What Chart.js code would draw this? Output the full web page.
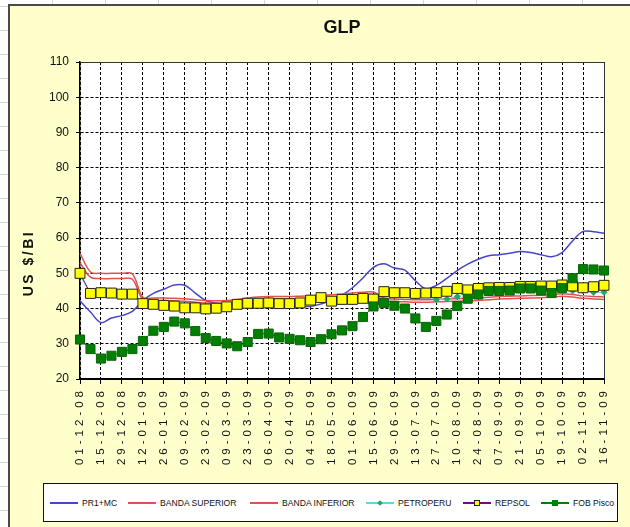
<!DOCTYPE html>
<html>
<head>
<meta charset="utf-8">
<script src="https://cdn.jsdelivr.net/npm/chart.js@4.4.1/dist/chart.umd.min.js"></script>
<style>
  html, body { margin: 0; padding: 0; }
  body {
    width: 630px; height: 527px; overflow: hidden; position: relative;
    background-color: #fff;
    background-image:
      linear-gradient(to right, #d6d6d6 1px, transparent 1px),
      linear-gradient(to bottom, #d6d6d6 1px, transparent 1px);
    background-size: 53px 24px;
    background-position: 52px 6px;
  }
  #frame {
    position: absolute; left: 8px; top: 4px; width: 640px; height: 540px;
    background: #ffffcc;
    border-left: 2px solid #4a4a4a; border-top: 2px solid #4a4a4a;
  }
  #chart { position: absolute; left: 0; top: 0; }
  #legend {
    position: absolute; left: 43px; top: 483px; width: 573px; height: 37px;
    background: #fff; border: 1px solid #111;
    font: 8.6px "Liberation Sans", Arial, sans-serif; color: #111;
  }
  .item { position: absolute; top: 0; height: 37px; display: flex; align-items: center; white-space: nowrap; }
  .sample { position: relative; width: 28px; height: 10px; margin-right: 4px; }
  .sample .ln { position: absolute; left: 0; right: 0; top: 4px; height: 2px; }
  .sample .mk { position: absolute; left: 50%; top: 50%; transform: translate(-50%, -50%); box-sizing: border-box; }
</style>
</head>
<body>
<div id="frame"></div>
<canvas id="chart" width="630" height="527"></canvas>
<div id="legend"></div>
<script>
const FONT = '"Liberation Sans", Arial, sans-serif';

// weekly dates, labels shown every two weeks
const weeks = [
  "01-12-08", "08-12-08", "15-12-08", "22-12-08", "29-12-08", "05-01-09", "12-01-09", "19-01-09",
  "26-01-09", "02-02-09", "09-02-09", "16-02-09", "23-02-09", "02-03-09", "09-03-09", "16-03-09",
  "23-03-09", "30-03-09", "06-04-09", "13-04-09", "20-04-09", "27-04-09", "04-05-09", "11-05-09",
  "18-05-09", "25-05-09", "01-06-09", "08-06-09", "15-06-09", "22-06-09", "29-06-09", "06-07-09",
  "13-07-09", "20-07-09", "27-07-09", "03-08-09", "10-08-09", "17-08-09", "24-08-09", "31-08-09",
  "07-09-09", "14-09-09", "21-09-09", "28-09-09", "05-10-09", "12-10-09", "19-10-09", "26-10-09",
  "02-11-09", "09-11-09", "16-11-09"
];

const pr1mc = [
  42.2, 39.0, 36.0, 37.3, 38.0, 39.2, 42.3, 44.3, 45.5, 46.7, 46.6, 44.4, 42.3, 41.5, 41.3, 41.2,
  41.4, 41.6, 41.6, 41.3, 41.0, 40.7, 40.6, 41.3, 42.4, 43.8, 45.9, 48.7, 51.7, 52.7, 51.5, 50.9,
  47.9, 45.6, 46.6, 48.6, 50.8, 52.6, 54.0, 55.0, 55.3, 55.7, 56.2, 55.9, 55.3, 54.7, 55.9, 59.2,
  61.9, 61.8, 61.4
];

const bandaSuperior = [
  55.7, 50.4, 50.0, 50.0, 50.0, 49.8, 43.2, 43.0, 43.0, 42.9, 42.8, 42.5, 42.3, 42.2, 42.3, 42.6,
  43.0, 43.3, 43.4, 43.4, 43.4, 43.5, 43.6, 43.7, 43.9, 44.1, 44.4, 44.6, 44.7, 43.0, 42.7, 42.6,
  42.5, 42.5, 42.6, 42.7, 42.8, 42.9, 43.0, 43.2, 43.4, 43.5, 43.6, 43.7, 43.8, 44.0, 44.2, 44.0,
  43.6, 43.4, 43.3
];

const bandaInferior = [
  53.0, 48.9, 48.5, 48.5, 48.5, 48.3, 42.5, 42.3, 42.3, 42.2, 42.1, 41.8, 41.6, 41.5, 41.6, 41.9,
  42.3, 42.6, 42.7, 42.7, 42.7, 42.8, 42.9, 43.0, 43.2, 43.4, 43.7, 43.9, 44.0, 42.3, 42.0, 41.9,
  41.8, 41.8, 41.9, 42.0, 42.1, 42.2, 42.3, 42.5, 42.7, 42.8, 42.9, 43.0, 43.1, 43.3, 43.5, 43.3,
  42.9, 42.7, 42.6
];

const petroperu = [
  49.6, 44.0, 44.2, 44.1, 43.8, 43.8, 41.1, 40.9, 40.6, 40.4, 40.0, 40.0, 39.7, 39.9, 40.3, 41.0,
  41.3, 41.3, 41.4, 41.2, 41.2, 41.4, 42.2, 42.8, 41.9, 42.4, 42.4, 42.7, 42.5, 44.5, 44.2, 44.2,
  44.0, 43.9, 42.5, 42.7, 43.4, 44.9, 45.3, 45.6, 45.7, 45.7, 46.0, 46.0, 46.1, 46.1, 46.4, 45.0,
  45.0, 44.6, 44.6
];

const repsol = [
  50.0, 44.3, 44.5, 44.4, 44.1, 44.1, 41.4, 41.2, 40.9, 40.7, 40.2, 40.2, 39.9, 40.1, 40.5, 41.2,
  41.5, 41.5, 41.6, 41.4, 41.4, 41.6, 42.4, 43.1, 42.1, 42.6, 42.6, 42.9, 42.7, 44.8, 44.5, 44.5,
  44.3, 44.4, 44.5, 44.9, 45.7, 45.3, 45.7, 45.9, 46.0, 46.0, 46.3, 46.3, 46.4, 46.4, 46.7, 46.4,
  45.9, 46.2, 46.6
];

const fobPisco = [
  31.2, 28.5, 25.8, 26.6, 27.7, 28.5, 30.8, 33.7, 34.8, 36.3, 35.8, 33.6, 31.6, 30.8, 30.1, 29.3,
  30.5, 32.8, 32.9, 31.8, 31.4, 31.0, 30.5, 31.3, 32.7, 33.8, 35.0, 37.6, 40.6, 41.6, 40.8, 40.0,
  37.2, 34.8, 36.5, 38.3, 40.7, 42.8, 44.0, 45.0, 45.0, 45.1, 45.7, 45.7, 45.1, 44.4, 45.8, 48.6,
  51.2, 51.1, 50.8
];

const yMin = 20;
const yMax = 110;
const yStep = 10;

// x labels in the reference are drawn with wide letter spacing
class SpacedCategoryScale extends Chart.CategoryScale {
  static id = "spacedCategory";
  drawLabels(chartArea) {
    const ctx = this.ctx;
    ctx.save();
    ctx.letterSpacing = "4px";
    super.drawLabels(chartArea);
    ctx.restore();
  }
}
Chart.register(SpacedCategoryScale);

const plotFrame = {
  id: "plotFrame",
  beforeDraw(chart) {
    const { ctx, chartArea: a } = chart;
    ctx.save();
    ctx.fillStyle = "#fff";
    ctx.fillRect(a.left, a.top, a.right - a.left, a.bottom - a.top);
    ctx.restore();
  },
  beforeDatasetsDraw(chart) {
    const { ctx, chartArea: a } = chart;
    ctx.save();
    ctx.strokeStyle = "#333";
    ctx.lineWidth = 1;
    ctx.beginPath();
    ctx.moveTo(a.left, a.top + 0.5);
    ctx.lineTo(a.right + 0.5, a.top + 0.5);
    ctx.lineTo(a.right + 0.5, a.bottom);
    ctx.stroke();
    ctx.restore();
  },
  afterDraw(chart) {
    const ctx = chart.ctx;
    ctx.save();
    ctx.translate(29, 263);
    ctx.rotate(-Math.PI / 2);
    ctx.font = `bold 14px ${FONT}`;
    ctx.letterSpacing = "2.5px";
    ctx.fillStyle = "#111";
    ctx.textAlign = "center";
    ctx.textBaseline = "middle";
    ctx.fillText("US $/BI", 0, 0);
    ctx.restore();
  }
};

const lineSeries = (label, data, color, order) => ({
  label, data, order,
  borderColor: color,
  borderWidth: 1.5,
  pointRadius: 0,
  tension: 0.35,
  fill: false
});

const evenOnly = (c) => (c.index % 2 === 0 ? "#000" : "rgba(0,0,0,0)");

new Chart(document.getElementById("chart"), {
  type: "line",
  data: {
    labels: weeks,
    datasets: [
      lineSeries("PR1+MC", pr1mc, "#4646c8", 5),
      lineSeries("BANDA SUPERIOR", bandaSuperior, "#e05252", 4),
      lineSeries("BANDA INFERIOR", bandaInferior, "#e05252", 3),
      {
        label: "PETROPERU", data: petroperu, order: 2,
        borderColor: "#5fd8d8", borderWidth: 1,
        pointStyle: "rectRot", pointRadius: 3,
        pointBackgroundColor: "#22a86a", pointBorderColor: "#22a86a",
        tension: 0, fill: false
      },
      {
        label: "REPSOL", data: repsol, order: 1,
        borderColor: "#800080", borderWidth: 1,
        pointStyle: "rect", pointRadius: 7,
        pointBackgroundColor: "#ffff00", pointBorderColor: "#222", pointBorderWidth: 1,
        tension: 0, fill: false
      },
      {
        label: "FOB Pisco", data: fobPisco, order: 0,
        borderColor: "#008000", borderWidth: 1,
        pointStyle: "rect", pointRadius: 6.4,
        pointBackgroundColor: "#008000", pointBorderColor: "#0b640b", pointBorderWidth: 1,
        tension: 0, fill: false
      }
    ]
  },
  options: {
    responsive: false,
    animation: false,
    events: [],
    layout: { padding: { left: 0, right: 26, top: 0, bottom: 0 } },
    plugins: {
      legend: { display: false },
      tooltip: { enabled: false },
      title: {
        display: true,
        text: "GLP",
        fullSize: false,
        color: "#111",
        font: { family: FONT, size: 18, weight: "bold" },
        padding: { top: 17, bottom: 23.4 }
      }
    },
    scales: {
      x: {
        type: "spacedCategory",
        offset: false,
        grid: { color: evenOnly, tickColor: evenOnly, lineWidth: 1, tickLength: 5 },
        border: { display: true, color: "#000", width: 2, dash: [3, 2] },
        ticks: {
          color: "#111",
          font: { family: FONT, size: 11.5 },
          padding: 3,
          autoSkip: false,
          maxRotation: 90,
          minRotation: 90,
          callback: (v, i) => (i % 2 ? "" : weeks[i])
        },
        afterFit(scale) { scale.height = 148; }
      },
      y: {
        min: yMin,
        max: yMax,
        grid: { color: "#000", tickColor: "#000", lineWidth: 1, tickLength: 4 },
        border: { display: true, color: "#000", width: 1.5, dash: [3, 2] },
        ticks: {
          stepSize: yStep,
          color: "#111",
          font: { family: FONT, size: 12 },
          padding: 7
        },
        afterFit(scale) { scale.width = 80; }
      }
    }
  },
  plugins: [plotFrame]
});

// legend below the chart, as in the spreadsheet
const legendItems = [
  { name: "PR1+MC", left: 6, line: "#4646c8" },
  { name: "BANDA SUPERIOR", left: 84, line: "#e05252" },
  { name: "BANDA INFERIOR", left: 206, line: "#e05252" },
  { name: "PETROPERU", left: 322, line: "#5fd8d8", mark: "diamond" },
  { name: "REPSOL", left: 419, line: "#800080", mark: "yellow" },
  { name: "FOB Pisco", left: 497, line: "#008000", mark: "green" }
];

const legend = document.getElementById("legend");
legendItems.forEach((it) => {
  const item = document.createElement("div");
  item.className = "item";
  item.style.left = it.left + "px";
  const sample = document.createElement("span");
  sample.className = "sample";
  const ln = document.createElement("span");
  ln.className = "ln";
  ln.style.background = it.line;
  sample.appendChild(ln);
  if (it.mark) {
    const mk = document.createElement("span");
    mk.className = "mk";
    if (it.mark === "diamond") {
      mk.style.cssText += "width:4px;height:4px;background:#22a86a;transform:translate(-50%,-50%) rotate(45deg);";
    } else if (it.mark === "yellow") {
      mk.style.cssText += "width:6px;height:6px;background:#ffff00;border:1px solid #222;";
    } else {
      mk.style.cssText += "width:6px;height:6px;background:#008000;";
    }
    sample.appendChild(mk);
  }
  const txt = document.createElement("span");
  txt.textContent = it.name;
  item.appendChild(sample);
  item.appendChild(txt);
  legend.appendChild(item);
});
</script>
</body>
</html>
